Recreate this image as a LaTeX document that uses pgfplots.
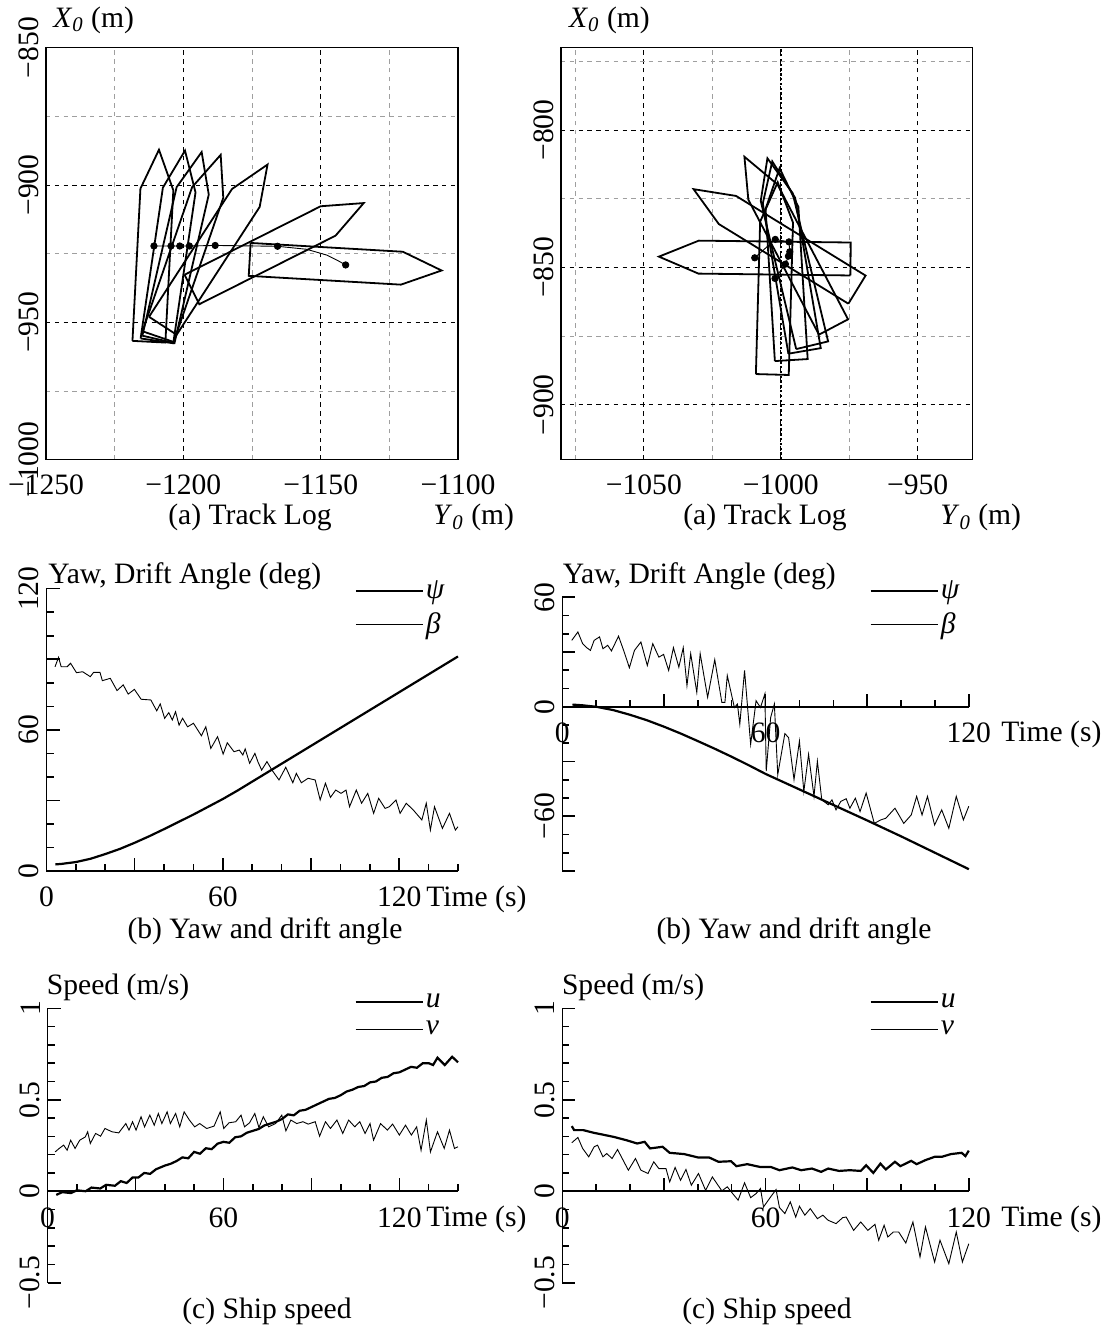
\documentclass[border=0pt]{standalone}
\usepackage{fontspec}
\setmainfont{Liberation Serif}
\usepackage{pgfplots}
\pgfplotsset{compat=1.18}
\pgfplotsset{
  trk/.style={scale only axis, anchor=south west,
    axis line style={line width=0.8pt},
    major tick length=0pt, minor tick length=0pt,
    grid=both,
    major grid style={line width=0.45pt, black, dash pattern=on 2.2pt off 2.2pt},
    minor grid style={line width=0.45pt, gray!75, dash pattern=on 2.2pt off 2.2pt},
    xticklabel style={anchor=north, inner sep=0pt, yshift=-7.2pt},
    yticklabel style={rotate=90, anchor=south, inner sep=3.4pt},
  },
  ts/.style={scale only axis, anchor=south west,
    axis x line=middle, axis y line=left,
    axis line style={-, line width=0.8pt},
    tick align=inside, major tick length=6.5pt, minor tick length=3.5pt,
    tick style={line width=0.8pt, black},
    hide obscured x ticks=false, hide obscured y ticks=false,
    xticklabel style={anchor=north, inner sep=0pt, yshift=-7.9pt},
    yticklabel style={rotate=90, anchor=south, inner sep=3.5pt},
    clip=false,
    legend cell align=left,
    legend style={draw=none, fill=none, inner sep=0pt, outer sep=0pt, anchor=north west, row sep=3.5pt, nodes={inner sep=1pt}},
    legend image code/.code={\draw[##1] (0pt,0pt) -- (33.5pt,0pt);},
  },
  thickline/.style={black, line width=1.1pt},
  thinline/.style={black, line width=0.45pt},
  hull/.style={black, line width=0.9pt, line join=miter},
}
\tikzset{lbl/.style={inner sep=0pt}}
\begin{document}
\begin{tikzpicture}[font=\fontsize{14.8}{17.5}\selectfont]
\useasboundingbox (0,0) rectangle (552.5pt,664pt);

% ---------------- (a) left track log
\begin{axis}[trk, at={(23pt,434.15pt)}, width=206pt, height=206pt,
  xmin=-1250, xmax=-1100, ymin=-1000, ymax=-850,
  xtick={-1250,-1200,-1150,-1100}, xticklabels={−1250,−1200,−1150,−1100},
  minor xtick={-1225,-1175,-1125},
  ytick={-1000,-950,-900,-850}, yticklabels={−1000,−950,−900,−850},
  minor ytick={-975,-925,-875}]
\addplot[hull] coordinates {(-1218.52,-956.74) (-1206.54,-957.36) (-1203.64,-901.94) (-1208.87,-887.15) (-1215.62,-901.32) (-1218.52,-956.74)};
\addplot[hull] coordinates {(-1215.55,-955.85) (-1203.67,-957.61) (-1195.56,-902.70) (-1199.39,-887.47) (-1207.44,-900.94) (-1215.55,-955.85)};
\addplot[hull] coordinates {(-1214.92,-954.85) (-1203.22,-957.55) (-1190.74,-903.48) (-1193.33,-888.00) (-1202.44,-900.78) (-1214.92,-954.85)};
\addplot[hull] coordinates {(-1214.87,-953.24) (-1203.53,-957.14) (-1185.46,-904.67) (-1186.40,-889.01) (-1196.80,-900.77) (-1214.87,-953.24)};
\addplot[hull] coordinates {(-1212.49,-947.98) (-1202.43,-954.52) (-1172.21,-907.98) (-1169.34,-892.55) (-1182.27,-901.44) (-1212.49,-947.98)};
\addplot[hull] coordinates {(-1199.57,-932.67) (-1194.17,-943.39) (-1144.59,-918.45) (-1134.33,-906.57) (-1149.99,-907.73) (-1199.57,-932.67)};
\addplot[hull] coordinates {(-1175.49,-921.09) (-1176.19,-933.07) (-1120.78,-936.27) (-1105.96,-931.12) (-1120.08,-924.29) (-1175.49,-921.09)};
\addplot[thinline] coordinates {(-1210.7,-922.2) (-1204.5,-922.2) (-1201.3,-922.2) (-1197.8,-922.2) (-1188.4,-922.0) (-1165.7,-922.3) (-1155.1,-923.4) (-1147.8,-925.5) (-1143.6,-927.6) (-1140.9,-929.1)};
\addplot[only marks, mark=*, mark size=1.6pt, black] coordinates {(-1210.7,-922.2) (-1204.5,-922.2) (-1201.3,-922.2) (-1197.8,-922.2) (-1188.4,-922.0) (-1165.7,-922.3) (-1140.9,-929.1)};
\end{axis}

% ---------------- (a) right track log
\begin{axis}[trk, at={(280.45pt,434.15pt)}, width=205.75pt, height=206pt,
  xmin=-1080.3, xmax=-930, ymin=-920, ymax=-770,
  xtick={-1050,-1000,-950}, xticklabels={−1050,−1000,−950},
  minor xtick={-1075,-1025,-975},
  ytick={-900,-850,-800}, yticklabels={−900,−850,−800},
  minor ytick={-875,-825,-775},
  extra x ticks={-1000}, extra x tick labels={},
  extra x tick style={grid=major, major grid style={black, line width=1pt, dash pattern=on 1.2pt off 1.2pt}}]
\addplot[hull] coordinates {(-1009.08,-888.82) (-997.08,-889.16) (-995.53,-833.68) (-1001.12,-819.01) (-1007.53,-833.34) (-1009.08,-888.82)};
\addplot[hull] coordinates {(-1002.15,-884.10) (-990.17,-883.36) (-993.56,-827.97) (-1000.44,-813.87) (-1005.54,-828.71) (-1002.15,-884.10)};
\addplot[hull] coordinates {(-997.21,-881.41) (-985.39,-879.39) (-994.74,-824.68) (-1003.10,-811.40) (-1006.56,-826.70) (-997.21,-881.41)};
\addplot[hull] coordinates {(-994.36,-879.73) (-982.70,-876.93) (-995.65,-822.97) (-1004.87,-810.27) (-1007.31,-825.77) (-994.36,-879.73)};
\addplot[hull] coordinates {(-986.04,-874.48) (-975.42,-868.90) (-1001.22,-819.76) (-1013.27,-809.71) (-1011.84,-825.34) (-986.04,-874.48)};
\addplot[hull] coordinates {(-975.30,-863.21) (-969.02,-852.97) (-1016.34,-823.97) (-1031.84,-821.51) (-1022.62,-834.21) (-975.30,-863.21)};
\addplot[hull] coordinates {(-974.57,-852.93) (-974.43,-840.93) (-1029.93,-840.25) (-1044.50,-846.07) (-1030.07,-852.25) (-974.57,-852.93)};
\addplot[thinline] coordinates {(-1002.1,-854.0) (-998.3,-848.8) (-997.2,-845.9) (-996.7,-844.3) (-997.0,-840.7) (-1002.0,-839.8) (-1009.5,-846.5)};
\addplot[only marks, mark=*, mark size=1.6pt, black] coordinates {(-1002.1,-854.0) (-998.3,-848.8) (-997.2,-845.9) (-996.7,-844.3) (-997.0,-840.7) (-1002.0,-839.8) (-1009.5,-846.5)};
\end{axis}

% ---------------- (b) left yaw / drift
\begin{axis}[ts, at={(23.25pt,228.5pt)}, width=205.75pt, height=141.15pt,
  xmin=0, xmax=140, ymin=0, ymax=120,
  xtick={0,30,60,90,120}, xticklabels={0,,60,,120},
  minor xtick={10,20,40,50,70,80,100,110,130,140},
  ytick={0,30,60,90,120}, yticklabels={0,,60,,120},
  minor ytick={10,20,40,50,70,80,100,110},
  legend style={at={(rel axis cs:0.749,1.036)}}]
\addplot[thickline] coordinates {(3,2.8) (5,3.0) (10,3.8) (15,5.2) (20,7.2) (25,9.4) (30,12.0) (35,14.8) (40,17.8) (45,20.9) (50,24.0) (55,27.3) (60,30.6) (65,34.2) (70,38.0) (80,45.6) (90,53.2) (100,60.8) (110,68.4) (120,76.0) (130,83.6) (140,91.2)};
\addlegendentry{\textit{ψ}}
\addplot[thinline] coordinates {(2.9,86.8) (4.1,90.8) (5,86.8) (7,86.8) (8.2,88.3) (10.2,84.3) (12.3,84.7) (14.9,82.6) (16,84.4) (18.2,84.4) (19,80.9) (21.7,81.9) (24,76.7) (26.1,79.1) (27.8,75.2) (29.9,77.2) (32.2,73) (35.5,72.7) (37.5,68.1) (38.7,71) (40.2,64.9) (41.6,67.3) (42.8,64.2) (43.9,67.7) (45.1,62) (46.3,64.9) (48,61.3) (50,62.8) (52.7,57.5) (54.2,61.3) (55.9,52.1) (58.2,57.1) (60.1,49.7) (61.5,54.5) (63.8,50.7) (65.6,51.4) (66.8,49.3) (67.6,51.9) (69.1,45.8) (70.9,50) (72,46.2) (73.2,42.9) (75,46.5) (76.7,42.9) (79.1,38.7) (81.4,44.1) (83.8,37.5) (85,41.5) (86.7,37.5) (89,39.4) (91.4,38.7) (93.1,30.2) (94.9,37.3) (96.6,31.3) (98.4,34.4) (100.2,33) (101.9,34.4) (103.1,27.3) (105.4,34.4) (107.2,28.8) (109.3,33) (111.3,24.5) (113,30.9) (115.2,26.6) (116.6,27.3) (118.9,30.2) (120.3,24.5) (122.4,28.8) (124.8,25.9) (127.7,21.7) (129.2,28.8) (130.6,17.4) (132,27.3) (134.7,18.1) (137.1,24.5) (139.1,17.4) (140,18.8)};
\addlegendentry{\textit{β}}
\end{axis}

% ---------------- (b) right yaw / drift
\begin{axis}[ts, at={(281.15pt,228.5pt)}, width=203.25pt, height=136.85pt,
  xmin=0, xmax=120, ymin=-90, ymax=60,
  xtick={0,30,60,90,120}, xticklabels={0,,60,,120},
  minor xtick={10,20,40,50,70,80,100,110},
  ytick={-90,-60,-30,0,30,60}, yticklabels={,−60,,0,,60},
  minor ytick={-80,-70,-50,-40,-20,-10,10,20,40,50},
  legend style={at={(rel axis cs:0.756,1.067)}}]
\addplot[thickline] coordinates {(3,1.2) (6,0.8) (10,0) (15,-1.8) (20,-4.4) (25,-7.4) (30,-10.9) (35,-14.7) (40,-18.8) (45,-23) (50,-27.4) (55,-32) (60,-36.8) (70,-45.3) (80,-53.8) (90,-62.3) (100,-71) (110,-80) (120,-89)};
\addlegendentry{\textit{ψ}}
\addplot[thinline] coordinates {(2.8,36.4) (4.6,41) (6,34.6) (7.2,32.4) (8.3,30.9) (9.4,36.4) (11,38.3) (12,31.8) (13.4,33.7) (14.5,30.6) (16.6,38.7) (18.1,30.9) (19.8,21.4) (21.3,30.9) (23.2,35.5) (25.1,22.6) (26.7,34.6) (28.5,27.2) (29.9,28.7) (31.4,19.9) (32.8,32.4) (34.4,21.7) (35.7,32.4) (36.8,11.6) (37.9,29.1) (39.7,7.9) (40.7,29.1) (42.9,5.2) (45,25.8) (47.1,2.4) (48,2.4) (48.7,17.1) (50.8,-0.4) (51.7,1.5) (52.4,-9.6) (53.8,19.9) (55.6,-20.6) (57.2,3.3) (58.5,-0.4) (59.8,7) (60.2,-35.3) (61.5,-5.9) (62.6,1.5) (63.6,-37.2) (65.7,-14.7) (66.8,-16.9) (68.4,-39.9) (70,-18.8) (71.3,-46.4) (72.7,-26.1) (74.3,-49.1) (75.3,-29.8) (76.6,-51) (78.5,-53.7) (79.6,-51) (80.8,-56.5) (82.2,-51.9) (83.8,-50.4) (84.9,-55.6) (86.5,-50.1) (87.9,-57.4) (89.7,-47.3) (92.1,-63.9) (94,-62) (95.5,-61.1) (98.2,-55.6) (100.8,-63.9) (103,-59.3) (104.6,-49.1) (106.2,-59.3) (107.8,-49.1) (109.9,-64.8) (112,-56.5) (114.1,-66.6) (116.3,-49.1) (118.4,-62) (120,-54.5)};
\addlegendentry{\textit{β}}
\end{axis}

% ---------------- (c) left speed
\begin{axis}[ts, at={(23.75pt,22.65pt)}, width=205.25pt, height=137.2pt,
  xmin=0, xmax=140, ymin=-0.5, ymax=1,
  xtick={0,30,60,90,120}, xticklabels={0,,60,,120},
  minor xtick={10,20,40,50,70,80,100,110,130,140},
  ytick={-0.5,0,0.5,1}, yticklabels={−0.5,0,0.5,1},
  minor ytick={-0.4,-0.3,-0.2,-0.1,0.1,0.2,0.3,0.4,0.6,0.7,0.8,0.9},
  legend style={at={(rel axis cs:0.748,1.061)}}]
\addplot[thickline] coordinates {(3,-0.02) (5,-0.005) (8,-0.01) (10,0.005) (13,0.0) (15,0.02) (18,0.015) (20,0.035) (23,0.03) (25,0.055) (27,0.045) (29,0.075) (31,0.075) (33,0.1) (35,0.095) (37,0.12) (40,0.14) (42,0.15) (44,0.165) (46,0.185) (48,0.18) (50,0.215) (52,0.205) (54,0.235) (56,0.23) (58,0.26) (60,0.27) (62,0.265) (64,0.295) (66,0.3) (68,0.32) (70,0.33) (72,0.34) (74,0.36) (76,0.37) (78,0.38) (80,0.395) (82,0.42) (84,0.415) (86,0.44) (88,0.445) (90,0.46) (92,0.475) (94,0.49) (96,0.505) (98,0.51) (100,0.525) (102,0.545) (104,0.555) (106,0.57) (108,0.575) (110,0.595) (112,0.6) (114,0.62) (116,0.625) (118,0.645) (120,0.65) (122,0.665) (124,0.68) (126,0.675) (128,0.7) (130,0.70) (131.5,0.69) (133,0.73) (135.5,0.69) (138,0.735) (140,0.705)};
\addlegendentry{\textit{u}}
\addplot[thinline] coordinates {(2.6,0.215) (4,0.234) (5.5,0.252) (6.7,0.224) (7.9,0.279) (9.4,0.234) (11,0.279) (12.9,0.297) (13.7,0.325) (14.6,0.261) (16.4,0.316) (18.1,0.301) (19.6,0.343) (22,0.325) (24.3,0.319) (26.7,0.370) (27.8,0.334) (29,0.380) (30.2,0.334) (31.9,0.407) (33.1,0.352) (34.9,0.416) (36.4,0.361) (37.8,0.425) (39,0.370) (40.8,0.434) (41.9,0.370) (43.7,0.425) (45.1,0.352) (46.6,0.434) (48.4,0.389) (50.2,0.352) (51.9,0.370) (54.3,0.343) (56.8,0.356) (58.9,0.434) (60.1,0.343) (61.9,0.374) (64.2,0.380) (66,0.416) (67.2,0.352) (68.9,0.374) (70.7,0.425) (72.1,0.348) (73.6,0.407) (75.4,0.352) (77.8,0.370) (79.9,0.416) (81.3,0.330) (83,0.389) (85,0.370) (87.1,0.380) (88.9,0.367) (91.3,0.380) (92.8,0.301) (94.8,0.380) (96.5,0.343) (98.7,0.389) (100.7,0.316) (102.7,0.389) (104.8,0.352) (106.5,0.380) (108.3,0.316) (110,0.370) (111.2,0.279) (113.6,0.370) (115.9,0.334) (117.7,0.367) (120,0.307) (122.1,0.361) (124.1,0.307) (125.9,0.352) (127.4,0.224) (129.2,0.389) (130.6,0.215) (133,0.325) (135.3,0.234) (137.1,0.334) (138.8,0.234) (140,0.243)};
\addlegendentry{\textit{v}}
\end{axis}

% ---------------- (c) right speed
\begin{axis}[ts, at={(281.15pt,22.65pt)}, width=203.25pt, height=137.2pt,
  xmin=0, xmax=120, ymin=-0.5, ymax=1,
  xtick={0,30,60,90,120}, xticklabels={0,,60,,120},
  minor xtick={10,20,40,50,70,80,100,110},
  ytick={-0.5,0,0.5,1}, yticklabels={−0.5,0,0.5,1},
  minor ytick={-0.4,-0.3,-0.2,-0.1,0.1,0.2,0.3,0.4,0.6,0.7,0.8,0.9},
  legend style={at={(rel axis cs:0.756,1.061)}}]
\addplot[thickline] coordinates {(2.8,0.356) (3.5,0.334) (6.2,0.334) (9.4,0.319) (12.6,0.307) (15.2,0.297) (18.9,0.279) (22.1,0.261) (24.3,0.270) (25.9,0.234) (29.6,0.243) (31.7,0.210) (36,0.203) (40.2,0.184) (43.4,0.184) (46.1,0.161) (49.8,0.164) (51.4,0.137) (54.6,0.148) (58.3,0.133) (61.5,0.133) (64.1,0.115) (67.9,0.130) (70.5,0.115) (73.7,0.124) (76.4,0.106) (78.5,0.124) (81.7,0.111) (84.9,0.115) (88.1,0.111) (89.7,0.142) (91.8,0.100) (93.9,0.151) (95.5,0.119) (98.2,0.161) (99.8,0.137) (103,0.166) (104.6,0.148) (107.2,0.170) (109.9,0.188) (112,0.188) (114.7,0.203) (117.9,0.210) (119,0.192) (120,0.222)};
\addlegendentry{\textit{u}}
\addplot[thinline] coordinates {(2.8,0.265) (4.6,0.294) (6,0.234) (7.8,0.188) (9.4,0.243) (10.4,0.252) (12,0.188) (13.1,0.206) (14.7,0.179) (16.3,0.228) (19.5,0.115) (21.6,0.179) (23.2,0.115) (25.3,0.097) (27,0.161) (28.5,0.124) (30.6,0.124) (31.7,0.051) (33.3,0.130) (34.9,0.060) (36.5,0.119) (38.1,0.033) (40.2,0.097) (42.3,0.005) (44.3,0.078) (47.1,0.002) (48.7,0.024) (50.3,-0.013) (51.9,-0.049) (53.8,0.046) (55.6,-0.035) (57.2,-0.013) (58.5,0.015) (59.4,-0.086) (61.5,-0.031) (63.1,0.009) (64.1,-0.089) (65.7,-0.122) (67.3,-0.058) (68.9,-0.141) (70,-0.082) (71.6,-0.131) (73.2,-0.095) (75.3,-0.150) (76.9,-0.131) (78.5,-0.159) (80.8,-0.177) (82.8,-0.144) (83.8,-0.141) (86,-0.214) (88.1,-0.168) (90.2,-0.214) (92.3,-0.181) (93.4,-0.268) (95,-0.186) (96.1,-0.250) (97.7,-0.223) (99.3,-0.223) (101.4,-0.283) (103.5,-0.168) (105.6,-0.359) (107.2,-0.195) (109.9,-0.387) (111.5,-0.268) (114.1,-0.396) (116.3,-0.223) (118.1,-0.387) (120,-0.287)};
\addlegendentry{\textit{v}}
\end{axis}

% ---------------- text
\node[lbl, anchor=base west] at (26.5pt,650.25pt) {\textit{X}\textsubscript{\textit{0}} (m)};
\node[lbl, anchor=base west] at (284.4pt,650.25pt) {\textit{X}\textsubscript{\textit{0}} (m)};
\node[lbl, anchor=base] at (125pt,401.5pt) {(a) Track Log};
\node[lbl, anchor=base west] at (216.5pt,401.5pt) {\textit{Y}\textsubscript{\textit{0}} (m)};
\node[lbl, anchor=base] at (382.5pt,401.5pt) {(a) Track Log};
\node[lbl, anchor=base west] at (470pt,401.5pt) {\textit{Y}\textsubscript{\textit{0}} (m)};
\node[lbl, anchor=base west] at (24pt,372.3pt) {Yaw, Drift Angle (deg)};
\node[lbl, anchor=base west] at (281.2pt,372.3pt) {Yaw, Drift Angle (deg)};
\node[lbl, anchor=base west] at (213pt,210.7pt) {Time (s)};
\node[lbl, anchor=base west] at (500.5pt,293.2pt) {Time (s)};
\node[lbl, anchor=base] at (132.5pt,194.8pt) {(b) Yaw and drift angle};
\node[lbl, anchor=base] at (397pt,194.8pt) {(b) Yaw and drift angle};
\node[lbl, anchor=base west] at (23.25pt,166.5pt) {Speed (m/s)};
\node[lbl, anchor=base west] at (280.8pt,166.5pt) {Speed (m/s)};
\node[lbl, anchor=base west] at (213pt,50.7pt) {Time (s)};
\node[lbl, anchor=base west] at (500.5pt,50.7pt) {Time (s)};
\node[lbl, anchor=base] at (133.5pt,4.85pt) {(c) Ship speed};
\node[lbl, anchor=base] at (383.5pt,4.85pt) {(c) Ship speed};
\end{tikzpicture}
\end{document}
